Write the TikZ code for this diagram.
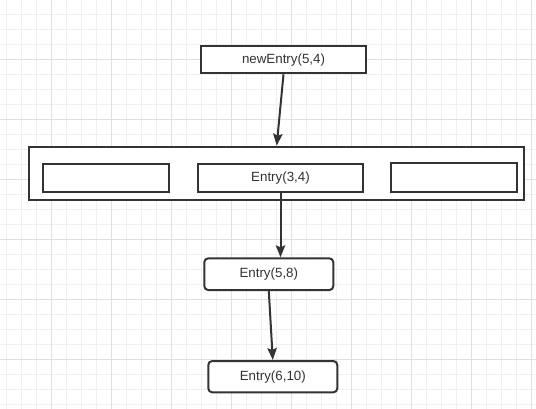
\documentclass[tikz,border=0pt]{standalone}
\usepackage{fontspec}
\setmainfont{Liberation Sans}
\usetikzlibrary{arrows.meta}

\definecolor{inkgray}{RGB}{51,51,51}
\definecolor{gridminor}{RGB}{240,240,240}
\definecolor{gridmajor}{RGB}{224,224,224}

\tikzset{every picture/.style={line width=0.75pt}}
\tikzset{
  entrybox/.style={draw=inkgray, line width=1.5pt, fill=white, text=inkgray, font=\fontsize{10}{12}\selectfont, inner sep=0pt},
  roundbox/.style={entrybox, rounded corners=3pt},
  link/.style={draw=inkgray, line width=1.5pt, -{Stealth[length=9pt,width=7pt,inset=1.5pt]}}
}

\begin{document}
\begin{tikzpicture}[x=0.75pt,y=0.75pt,yscale=-1,xscale=1]
    \useasboundingbox (0,0) rectangle (536,409);
    \fill [white] (0,0) rectangle (536,409);

    %Grid
    \foreach \gx in {6,21,...,531} \draw [gridminor, line width=0.75pt] (\gx,0) -- (\gx,409);
    \foreach \gy in {0,15,...,405} \draw [gridminor, line width=0.75pt] (0,\gy) -- (536,\gy);
    \foreach \gx in {51,111,...,531} \draw [gridmajor, line width=0.75pt] (\gx,0) -- (\gx,409);
    \foreach \gy in {0,60,...,360} \draw [gridmajor, line width=0.75pt] (0,\gy) -- (536,\gy);

    %Shape: Rectangle [newEntry]
    \node [entrybox, minimum width=123.7pt, minimum height=20.5pt] (newentry) at (283.5,59.6) {newEntry(5,4)};

    %Shape: Rectangle [table]
    \node [entrybox, minimum width=371pt, minimum height=40pt] (table) at (276.7,173.4) {};
    \node [entrybox, minimum width=94.3pt, minimum height=20.8pt] (slotleft) at (106.2,178.2) {};
    \node [entrybox, minimum width=124.2pt, minimum height=21.4pt] (slotmid) at (280.5,178) {Entry(3,4)};
    \node [entrybox, minimum width=94.5pt, minimum height=21.3pt] (slotright) at (453.7,177.5) {};

    %Shape: Rounded Rectangle [chain]
    \node [roundbox, minimum width=96.8pt, minimum height=23.8pt] (entryfive) at (268.8,274.2) {Entry(5,8)};
    \node [roundbox, minimum width=96.8pt, minimum height=23.5pt] (entrysix) at (272.8,376.7) {Entry(6,10)};

    %Straight Lines
    \draw [link] (newentry.south) -- (table.north);
    \draw [link] (slotmid.south) -- (slotmid.south |- entryfive.north);
    \draw [link] (entryfive.south) -- (entrysix.north);

\end{tikzpicture}
\end{document}
